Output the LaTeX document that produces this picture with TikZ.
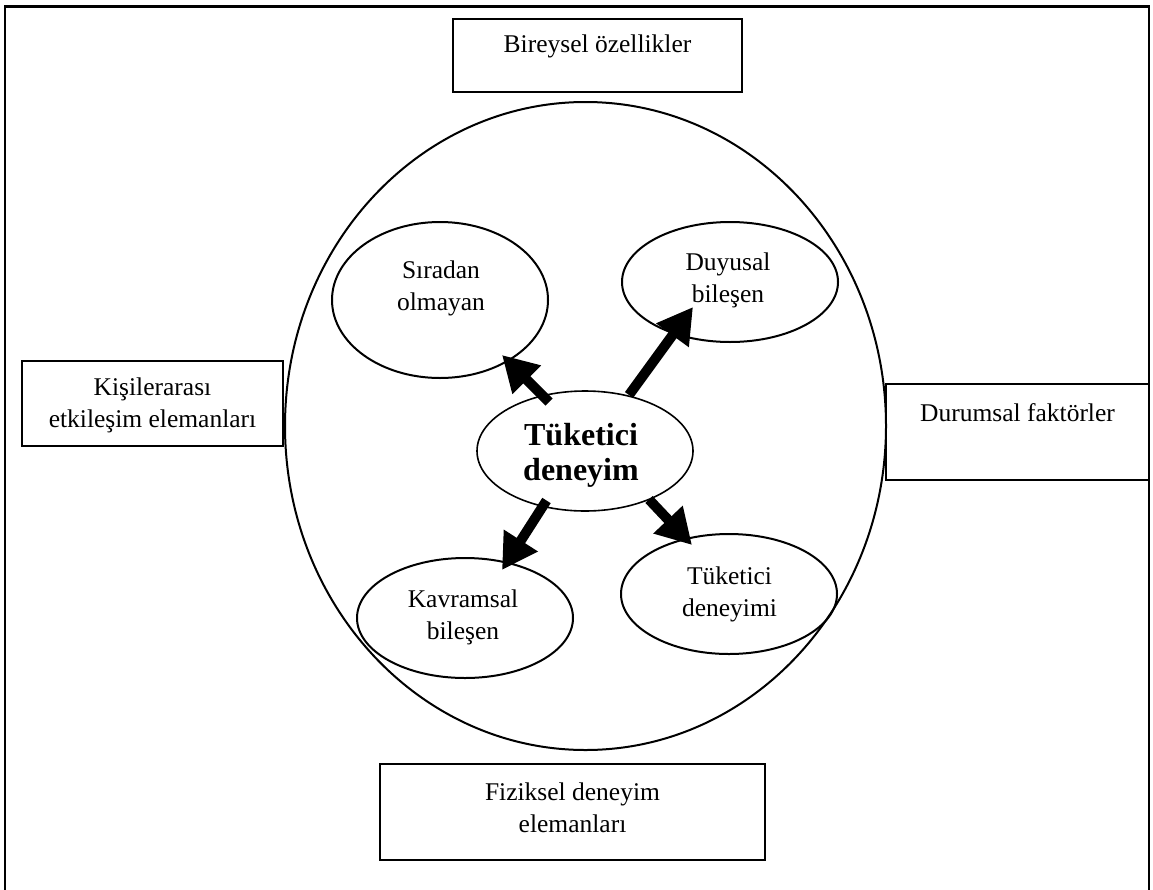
\documentclass[tikz,border=0pt]{standalone}
\usepackage{fontspec}
\setmainfont{Liberation Serif}
\usetikzlibrary{shapes.geometric,arrows.meta}
\tikzset{
  frameline/.style={line width=2.8pt},
  boxshape/.style={draw,line width=2pt,rectangle,inner sep=0pt},
  ovalshape/.style={draw,line width=2pt,ellipse,inner sep=0pt},
  txt/.style={align=center,inner sep=0pt,font=\fontsize{25.5}{32}\selectfont},
  boldtxt/.style={align=center,inner sep=0pt,font=\fontsize{32}{35}\selectfont\bfseries},
  bigarrow/.style={line width=10pt,-{Triangle[width=38pt,length=35pt]}},
}
\begin{document}
\begin{tikzpicture}[x=1pt,y=-1pt]
\useasboundingbox (0,0) rectangle (1153,889);
% outer frame (bottom edge outside the picture)
\draw[frameline] (5,895) -- (5,6.5) -- (1149,6.5) -- (1149,895);
% big circle
\node[ovalshape,minimum width=601pt,minimum height=648pt] (big) at (585.5,426) {};
% boxes
\node[boxshape,minimum width=289pt,minimum height=73pt] (bbox) at (597.5,55.5) {};
\node[txt] (btxt) at (597.5,46) {Bireysel özellikler};
\node[boxshape,minimum width=261pt,minimum height=85pt] (kbox) at (152.5,403.5) {};
\node[txt] (ktxt) at (152.5,405) {Kişilerarası\\etkileşim elemanları};
\node[boxshape,minimum width=263pt,minimum height=96pt] (dbox) at (1017.5,432) {};
\node[txt] (dtxt) at (1017.5,413) {Durumsal faktörler};
\node[boxshape,minimum width=385pt,minimum height=96pt] (fbox) at (572.5,812) {};
\node[txt] (ftxt) at (572.5,808) {Fiziksel deneyim\\elemanları};
% inner ellipses
\node[ovalshape,minimum width=216pt,minimum height=156pt] (s1) at (440,300) {};
\node[txt] (s1t) at (441,288) {Sıradan\\olmayan};
\node[ovalshape,minimum width=216pt,minimum height=120pt] (s2) at (730,282) {};
\node[txt] (s2t) at (728,280) {Duyusal\\bileşen};
\node[ovalshape,minimum width=216pt,minimum height=120pt] (s3) at (465,618) {};
\node[txt] (s3t) at (463,617) {Kavramsal\\bileşen};
\node[ovalshape,minimum width=216pt,minimum height=120pt] (s4) at (729,594) {};
\node[txt] (s4t) at (729.5,594) {Tüketici\\deneyimi};
% centre
\node[draw,line width=1.6pt,ellipse,inner sep=0pt,minimum width=216pt,minimum height=120pt] (ce) at (585,451) {};
\node[boldtxt] (cet) at (581,455) {Tüketici\\deneyim};
% arrows
\coordinate (a1s) at (549,402); \coordinate (a1e) at (502,355);
\coordinate (a2s) at (629,395); \coordinate (a2e) at (693,307);
\coordinate (a3s) at (546.5,500.5); \coordinate (a3e) at (502,570);
\coordinate (a4s) at (649,499.5); \coordinate (a4e) at (692,545);
\draw[bigarrow] (a1s) -- (a1e);
\draw[bigarrow] (a2s) -- (a2e);
\draw[bigarrow] (a3s) -- (a3e);
\draw[bigarrow] (a4s) -- (a4e);
\end{tikzpicture}
\end{document}
